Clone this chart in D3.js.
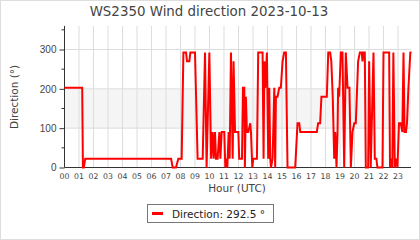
<!DOCTYPE html>
<html>
<head>
<meta charset="utf-8">
<script src="https://cdn.jsdelivr.net/npm/d3@7"></script>
<style>
  body { margin: 0; background: #fff; }
  svg { display: block; font-family: "DejaVu Sans", sans-serif; }
</style>
</head>
<body>
<svg id="chart" width="420" height="240"></svg>
<script>
// wind direction samples, hour of day (UTC) and degrees
var hours = [0.00, 1.22, 1.27, 1.33, 1.43, 7.35, 7.46, 7.69, 7.85, 8.08,
  8.20, 8.38, 8.45, 8.61, 8.68, 9.00, 9.18, 9.53, 9.69, 9.80,
  9.99, 10.11, 10.22, 10.29, 10.38, 10.45, 10.56, 10.68, 10.75, 10.84,
  11.02, 11.09, 11.16, 11.23, 11.32, 11.39, 11.48, 11.60, 11.66, 11.76,
  11.99, 12.05, 12.24, 12.31, 12.40, 12.44, 12.51, 12.58, 12.67, 12.81,
  12.86, 12.95, 13.02, 13.27, 13.36, 13.66, 13.73, 13.78, 13.84, 13.96,
  14.05, 14.12, 14.19, 14.24, 14.35, 14.47, 14.53, 14.58, 14.69, 14.81,
  14.92, 15.04, 15.15, 15.27, 15.38, 15.91, 16.07, 16.19, 16.26, 17.40,
  17.49, 17.63, 17.72, 18.09, 18.19, 18.32, 18.40, 18.50, 18.60, 18.67,
  18.76, 18.83, 18.87, 18.94, 19.06, 19.17, 19.29, 19.40, 19.52, 19.65,
  19.75, 19.86, 19.98, 20.09, 20.25, 20.37, 20.50, 20.55, 20.62, 20.71,
  20.78, 20.94, 21.01, 21.12, 21.31, 21.40, 21.51, 21.58, 21.93, 22.00,
  22.39, 22.45, 22.55, 22.61, 22.68, 22.78, 22.89, 22.96, 23.07, 23.19,
  23.30, 23.38, 23.45, 23.55, 23.62, 23.72, 23.85, 23.93];
var directions = [202.5, 202.5, 0, 0, 22.5, 22.5, 0, 0, 22.5, 22.5,
  292.5, 292.5, 270, 270, 292.5, 292.5, 22.5, 22.5, 292.5, 0,
  292.5, 22.5, 90, 22.5, 90, 22.5, 22.5, 90, 22.5, 90,
  90, 0, 22.5, 0, 90, 22.5, 292.5, 22.5, 270, 90,
  90, 22.5, 22.5, 202.5, 202.5, 0, 180, 90, 90, 112.5,
  90, 0, 22.5, 22.5, 292.5, 292.5, 22.5, 270, 202.5, 292.5,
  22.5, 202.5, 22.5, 0, 22.5, 202.5, 0, 180, 180, 202.5,
  202.5, 270, 292.5, 292.5, 0, 0, 112.5, 112.5, 90, 90,
  112.5, 112.5, 180, 180, 292.5, 292.5, 270, 180, 22.5, 90,
  0, 90, 202.5, 180, 292.5, 292.5, 0, 292.5, 202.5, 202.5,
  0, 90, 112.5, 112.5, 270, 292.5, 292.5, 270, 292.5, 292.5,
  0, 0, 270, 0, 292.5, 22.5, 22.5, 0, 0, 292.5,
  292.5, 0, 22.5, 0, 292.5, 0, 22.5, 0, 112.5, 112.5,
  90, 292.5, 90, 90, 112.5, 202.5, 292.5, 292.5];

var hourLabels = ["00","01","02","03","04","05","06","07","08","09","10","11",
  "12","13","14","15","16","17","18","19","20","21","22","23"];
var yMajor = [0, 100, 200, 300];
var yMinor = [50, 150, 250, 350];
var band = [100, 200];
var title = "WS2350 Wind direction 2023-10-13";
var legendText = "Direction: 292.5 °";

var svg = d3.select("#chart");
var plotLeft = 64.5, plotRight = 411, plotTop = 25.9, plotBottom = 167.5;

x_scale = d3.scaleLinear().domain([0, 24]).range([plotLeft, 412.5]);
y_scale = d3.scaleLinear().domain([0, 360]).range([plotBottom, plotTop]);

// frame round the picture
svg.append("rect")
  .attr("x", 0.5).attr("y", 0.5).attr("width", 419).attr("height", 239)
  .attr("fill", "#fff").attr("stroke", "#ddd");

svg.append("text")
  .attr("x", 209).attr("y", 16)
  .attr("text-anchor", "middle")
  .attr("font-size", 13.4)
  .attr("fill", "#444")
  .text(title);

// shaded band 100..200
svg.append("rect")
  .attr("x", plotLeft).attr("y", y_scale(band[1]))
  .attr("width", plotRight - plotLeft)
  .attr("height", y_scale(band[0]) - y_scale(band[1]))
  .attr("fill", "#f5f5f5");

// grid
svg.append("g").selectAll("line")
  .data(hourLabels)
  .enter().append("line")
  .attr("x1", function(d, i){ return x_scale(i); })
  .attr("x2", function(d, i){ return x_scale(i); })
  .attr("y1", plotTop).attr("y2", plotBottom)
  .attr("stroke", "#ddd");

svg.append("g").selectAll("line")
  .data(yMajor.slice(1))
  .enter().append("line")
  .attr("x1", plotLeft).attr("x2", plotRight)
  .attr("y1", function(d){ return y_scale(d); })
  .attr("y2", function(d){ return y_scale(d); })
  .attr("stroke", "#ddd");

// y axis
var yAxis = svg.append("g")
  .attr("transform", "translate(" + plotLeft + ",0)")
  .call(d3.axisLeft(y_scale).tickValues(yMajor).tickSize(5).tickPadding(3));
yAxis.select(".domain").attr("d", "M0," + plotTop + "V" + plotBottom).attr("stroke", "#333");
yAxis.selectAll(".tick line").attr("stroke", "#333");
yAxis.selectAll("text").attr("font-size", 10).attr("fill", "#444").attr("font-family", null);
yAxis.selectAll(".minor")
  .data(yMinor)
  .enter().append("line")
  .attr("class", "minor")
  .attr("x1", -3).attr("x2", 0)
  .attr("y1", function(d){ return y_scale(d); })
  .attr("y2", function(d){ return y_scale(d); })
  .attr("stroke", "#333");

// x axis: labels only
svg.append("line")
  .attr("x1", plotLeft).attr("x2", plotRight)
  .attr("y1", plotBottom).attr("y2", plotBottom)
  .attr("stroke", "#333");
svg.append("g").selectAll("text")
  .data(hourLabels)
  .enter().append("text")
  .attr("x", function(d, i){ return x_scale(i); })
  .attr("y", 178.5)
  .attr("text-anchor", "middle")
  .attr("font-size", 7.8)
  .attr("fill", "#444")
  .text(function(d){ return d; });

svg.append("text")
  .attr("x", 237).attr("y", 191.5)
  .attr("text-anchor", "middle")
  .attr("font-size", 10.5)
  .attr("fill", "#444")
  .text("Hour (UTC)");

svg.append("text")
  .attr("transform", "translate(17.5,97) rotate(-90)")
  .attr("text-anchor", "middle")
  .attr("font-size", 10.5)
  .attr("fill", "#444")
  .text("Direction (°)");

// the series
var line = d3.line()
  .x(function(d){ return x_scale(d[0]); })
  .y(function(d){ return y_scale(d[1]); });

svg.append("path")
  .datum(d3.zip(hours, directions))
  .attr("d", line)
  .attr("fill", "none")
  .attr("stroke", "#ff0000")
  .attr("stroke-width", 2);

// legend
svg.append("rect")
  .attr("x", 147.5).attr("y", 204.5).attr("width", 126).attr("height", 18)
  .attr("fill", "#fff").attr("stroke", "#777");
svg.append("line")
  .attr("x1", 152).attr("x2", 163).attr("y1", 213.5).attr("y2", 213.5)
  .attr("stroke", "#ff0000").attr("stroke-width", 3);
svg.append("text")
  .attr("x", 172).attr("y", 217.5)
  .attr("font-size", 10.5)
  .attr("fill", "#222")
  .text(legendText);
</script>
</body>
</html>
